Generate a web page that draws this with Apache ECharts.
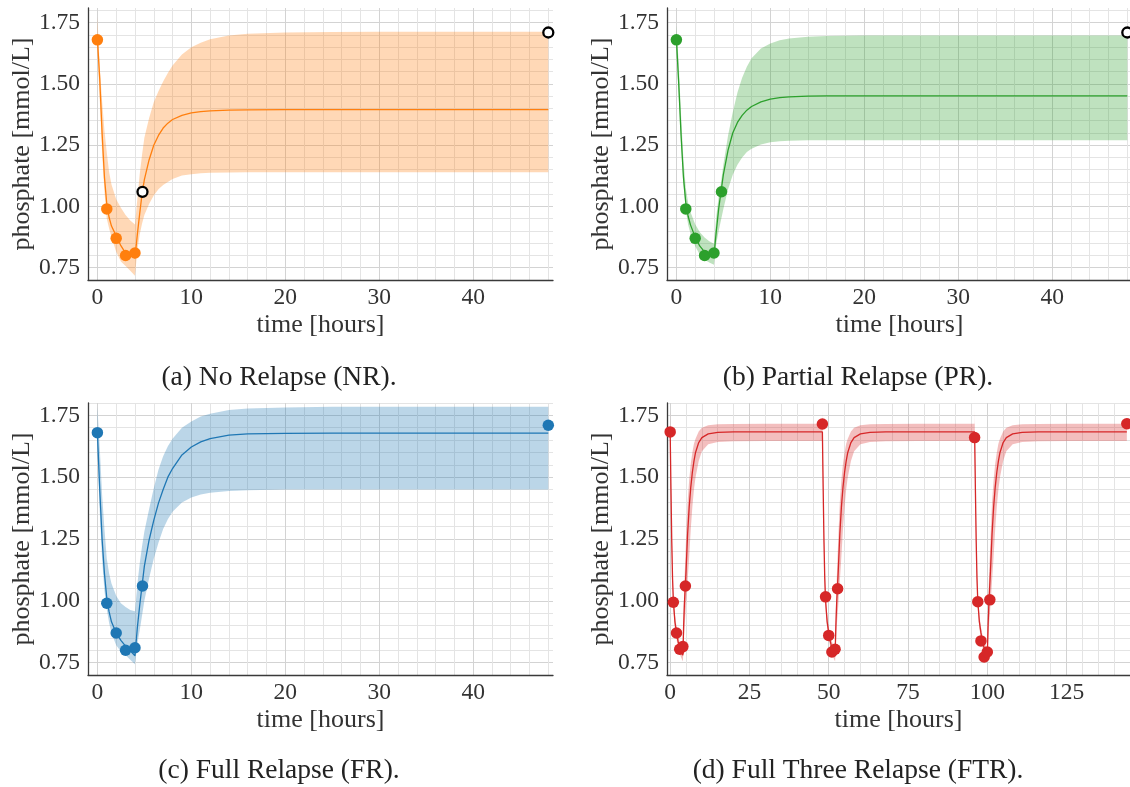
<!DOCTYPE html>
<html>
<head>
<meta charset="utf-8">
<script src="https://cdn.jsdelivr.net/npm/echarts@6/dist/echarts.min.js"></script>
<style>
  html, body { margin: 0; padding: 0; background: #fff; overflow: hidden; }
  #chart { width: 1130px; height: 787px; }
</style>
</head>
<body>
<div id="chart"></div>
<script>
// ---------- model time grid for the single-dose panels (hours) ----------
const hours = [0, 0.25, 0.5, 0.75, 1, 1.25, 1.5, 2, 2.5, 3, 3.5, 4, 4.25, 4.5, 4.75,
  5, 5.5, 6, 6.5, 7, 7.5, 8, 9, 10, 11, 12, 14, 16, 20, 25, 30, 40, 48];

// No Relapse (NR): mean prediction and credible band
const nrMid = [1.685, 1.52, 1.30, 1.12, 1.01, 0.955, 0.92, 0.88, 0.84, 0.81, 0.80, 0.79, 0.885, 0.97, 1.05,
  1.11, 1.19, 1.25, 1.29, 1.32, 1.34, 1.355, 1.372, 1.382, 1.387, 1.39, 1.393, 1.394, 1.395, 1.395, 1.395, 1.395, 1.395];
const nrUp = [1.775, 1.57, 1.43, 1.31, 1.22, 1.14, 1.09, 1.03, 0.995, 0.965, 0.943, 0.926, 1.03, 1.13, 1.21,
  1.28, 1.36, 1.425, 1.47, 1.51, 1.545, 1.575, 1.62, 1.65, 1.668, 1.682, 1.698, 1.705, 1.71, 1.712, 1.713, 1.713, 1.713];
const nrLo = [1.63, 1.44, 1.22, 1.06, 0.95, 0.91, 0.875, 0.815, 0.775, 0.757, 0.738, 0.717, 0.82, 0.885, 0.93,
  0.965, 1.01, 1.045, 1.07, 1.088, 1.10, 1.112, 1.126, 1.132, 1.136, 1.138, 1.139, 1.14, 1.14, 1.14, 1.14, 1.14, 1.14];

// Partial Relapse (PR)
const prMid = [1.685, 1.50, 1.29, 1.12, 1.015, 0.96, 0.925, 0.875, 0.838, 0.815, 0.806, 0.80, 0.90, 0.99, 1.06,
  1.13, 1.23, 1.30, 1.343, 1.372, 1.393, 1.408, 1.427, 1.438, 1.444, 1.447, 1.45, 1.451, 1.451, 1.451, 1.451, 1.451, 1.451];
const prUp = [1.74, 1.58, 1.37, 1.19, 1.075, 1.015, 0.978, 0.927, 0.895, 0.873, 0.858, 0.848, 0.96, 1.04, 1.10,
  1.17, 1.29, 1.385, 1.465, 1.525, 1.57, 1.605, 1.645, 1.665, 1.678, 1.686, 1.693, 1.696, 1.698, 1.698, 1.698, 1.698, 1.698];
const prLo = [1.64, 1.45, 1.25, 1.09, 0.985, 0.925, 0.89, 0.838, 0.803, 0.783, 0.771, 0.762, 0.85, 0.90, 0.945,
  0.99, 1.07, 1.13, 1.17, 1.20, 1.222, 1.236, 1.253, 1.262, 1.266, 1.268, 1.27, 1.27, 1.27, 1.27, 1.27, 1.27, 1.27];

// Full Relapse (FR)
const frMid = [1.68, 1.45, 1.25, 1.11, 1.01, 0.955, 0.915, 0.87, 0.84, 0.817, 0.798, 0.778, 0.89, 0.98, 1.06,
  1.14, 1.245, 1.325, 1.395, 1.45, 1.50, 1.535, 1.59, 1.622, 1.643, 1.656, 1.67, 1.675, 1.677, 1.678, 1.678, 1.678, 1.678];
const frUp = [1.785, 1.62, 1.43, 1.29, 1.17, 1.11, 1.07, 1.02, 0.99, 0.975, 0.963, 0.958, 1.065, 1.15, 1.22,
  1.28, 1.37, 1.455, 1.53, 1.585, 1.625, 1.655, 1.70, 1.725, 1.745, 1.757, 1.772, 1.778, 1.782, 1.785, 1.785, 1.785, 1.785];
const frLo = [1.60, 1.36, 1.17, 1.04, 0.965, 0.91, 0.87, 0.82, 0.795, 0.78, 0.762, 0.743, 0.824, 0.88, 0.94,
  1.00, 1.09, 1.17, 1.235, 1.29, 1.33, 1.36, 1.398, 1.418, 1.43, 1.437, 1.444, 1.447, 1.45, 1.45, 1.45, 1.45, 1.45];

// Measured phosphate (single dose, same patient in all three panels)
const obsHours = [0, 1, 2, 3, 4, 4.8, 48];
const obsValues = [1.68, 0.99, 0.87, 0.80, 0.81, 1.06, 1.71];
// how many of the measurements were used for fitting in each scenario (rest are held out)
const fittedNR = 5;
const fittedPR = 6;
const fittedFR = 7;

// ---------- Full Three Relapse (FTR): one dosing cycle of the model ----------
const doseHours = [0, 48, 96];
const cycleHours = [0, 0.25, 0.5, 0.75, 1, 1.5, 2, 2.5, 3, 3.5, 4, 4.25, 4.5, 5, 5.5, 6, 6.5, 7, 7.5, 8,
  9, 10, 12, 15, 20, 30, 48];
const ftrMid = [1.685, 1.45, 1.24, 1.09, 1.00, 0.915, 0.87, 0.835, 0.81, 0.795, 0.78, 0.90, 0.99, 1.12, 1.27,
  1.38, 1.46, 1.52, 1.565, 1.60, 1.64, 1.66, 1.675, 1.681, 1.683, 1.683, 1.683];
const ftrUp = [1.77, 1.52, 1.30, 1.14, 1.04, 0.945, 0.895, 0.86, 0.835, 0.818, 0.805, 0.97, 1.08, 1.25, 1.40,
  1.49, 1.555, 1.60, 1.635, 1.655, 1.685, 1.70, 1.71, 1.714, 1.715, 1.716, 1.716];
const ftrLo = [1.60, 1.40, 1.19, 1.05, 0.97, 0.89, 0.845, 0.81, 0.785, 0.77, 0.755, 0.82, 0.89, 0.98, 1.08,
  1.18, 1.29, 1.38, 1.45, 1.50, 1.565, 1.605, 1.633, 1.642, 1.645, 1.646, 1.646];
const ftrObsHours = [0, 1, 2, 3, 4, 4.8, 48, 49, 50, 51, 52, 52.8, 96, 97, 98, 99, 100, 100.8, 144];
const ftrObsValues = [1.683, 0.994, 0.87, 0.804, 0.815, 1.06, 1.715, 1.016, 0.86, 0.793, 0.804, 1.049,
  1.66, 0.996, 0.838, 0.773, 0.793, 1.004, 1.716];

// ---------- tick labels ----------
const xTicks48 = [0, 10, 20, 30, 40];
const xTicks144 = [0, 25, 50, 75, 100, 125];
const yTicks = [0.75, 1.00, 1.25, 1.50, 1.75];

const captions = ['(a) No Relapse (NR).', '(b) Partial Relapse (PR).', '(c) Full Relapse (FR).', '(d) Full Three Relapse (FTR).'];

// ---------- styling ----------
const FONT = 'Liberation Serif';
const TEXT = '#333333';
const AXIS = '#3a3a3a';
const MAJOR = '#d3d3d3';
const MINOR = '#e4e4e4';
const NONE = 'rgba(0,0,0,0)';
const C_NR = '#ff7f0e', C_PR = '#2ca02c', C_FR = '#1f77b4', C_FTR = '#d62728';

function rgba(hex, a) {
  const n = parseInt(hex.slice(1), 16);
  return `rgba(${(n >> 16) & 255},${(n >> 8) & 255},${n & 255},${a})`;
}

// one colour per tick (ticks run from min in steps of `step`); minor/major grid
function gridColors(min, max, step, kind) {
  const out = [];
  const n = Math.floor((max - min) / step + 1e-9);
  for (let i = 0; i <= n; i++) out.push(kind(min + i * step));
  out.push(NONE); // extent end
  return out;
}

const grids = [
  { left: 88, top: 8, width: 465, height: 272, ymax: 1.81 },
  { left: 667, top: 8, width: 465, height: 272, ymax: 1.81 },
  { left: 88, top: 403, width: 465, height: 272, ymax: 1.80 },
  { left: 667, top: 403, width: 463, height: 272, ymax: 1.80 }
];

function xAxisFor(i, max, ticks, major, minor) {
  return {
    type: 'value', gridIndex: i, min: -1, max: max, interval: 1,
    name: 'time [hours]', nameLocation: 'middle', nameGap: 32,
    nameTextStyle: { fontFamily: FONT, fontSize: 26, color: TEXT },
    axisLine: { onZero: false, lineStyle: { color: AXIS, width: 1.3 } },
    axisTick: { show: false },
    axisLabel: {
      margin: 6, fontFamily: FONT, fontSize: 23.5, color: TEXT,
      showMinLabel: true, showMaxLabel: true,
      formatter: v => (ticks.indexOf(Math.round(v)) >= 0 && Math.abs(v - Math.round(v)) < 1e-9) ? String(Math.round(v)) : ''
    },
    splitLine: {
      show: true,
      lineStyle: {
        width: 1,
        color: gridColors(-1, max, 1, v => {
          const k = Math.round(v);
          return k % major === 0 ? MAJOR : (k % minor === 0 ? MINOR : NONE);
        })
      }
    }
  };
}

function yAxisFor(i, max) {
  return {
    type: 'value', gridIndex: i, min: 0.70, max: max, interval: 0.05,
    name: 'phosphate [mmol/L]', nameLocation: 'middle', nameGap: 51,
    nameTextStyle: { fontFamily: FONT, fontSize: 26, color: TEXT },
    axisLine: { show: true, onZero: false, lineStyle: { color: AXIS, width: 1.3 } },
    axisTick: { show: false },
    axisLabel: {
      margin: 8, fontFamily: FONT, fontSize: 23.5, color: TEXT,
      formatter: v => yTicks.some(t => Math.abs(t - v) < 1e-6) ? v.toFixed(2) : ''
    },
    splitLine: {
      show: true,
      lineStyle: {
        width: 1,
        color: gridColors(0.70, max, 0.05, v => {
          const k = Math.round(v * 100);
          return k % 25 === 0 ? MAJOR : (k % 5 === 0 ? MINOR : NONE);
        })
      }
    }
  };
}

// shaded credible band, drawn as a polygon through the axis scales
function bandSeries(i, offsets, xs, up, lo, color) {
  return {
    type: 'custom', xAxisIndex: i, yAxisIndex: i, z: 1, silent: true, clip: true,
    data: offsets.map(o => [o]),
    renderItem: (params, api) => {
      const off = api.value(0);
      const pts = [];
      for (let k = 0; k < xs.length; k++) pts.push(api.coord([off + xs[k], up[k]]));
      for (let k = xs.length - 1; k >= 0; k--) pts.push(api.coord([off + xs[k], lo[k]]));
      return { type: 'polygon', shape: { points: pts }, style: { fill: rgba(color, 0.3) } };
    }
  };
}

function lineSeries(i, data, color) {
  return {
    type: 'line', xAxisIndex: i, yAxisIndex: i, z: 2, data: data,
    showSymbol: false, smooth: false, silent: true,
    lineStyle: { color: color, width: 1.3 }
  };
}

function dotSeries(i, data, color) {
  return {
    type: 'scatter', xAxisIndex: i, yAxisIndex: i, z: 4, data: data,
    symbol: 'circle', symbolSize: 11.5, silent: true,
    itemStyle: { color: color, opacity: 1 }
  };
}

function ringSeries(i, data) {
  return {
    type: 'scatter', xAxisIndex: i, yAxisIndex: i, z: 4, data: data,
    symbol: 'circle', symbolSize: 10, silent: true,
    itemStyle: { color: '#ffffff', borderColor: '#000000', borderWidth: 2.3, opacity: 1 }
  };
}

const pairs = (xs, ys) => xs.map((x, k) => [x, ys[k]]);

// concatenated FTR mean curve over the three dosing cycles
const ftrLine = [];
doseHours.forEach(d => cycleHours.forEach((h, k) => ftrLine.push([d + h, ftrMid[k]])));

const obs = pairs(obsHours, obsValues);

const series = [
  bandSeries(0, [0], hours, nrUp, nrLo, C_NR),
  lineSeries(0, pairs(hours, nrMid), C_NR),
  dotSeries(0, obs.slice(0, fittedNR), C_NR),
  ringSeries(0, obs.slice(fittedNR)),

  bandSeries(1, [0], hours, prUp, prLo, C_PR),
  lineSeries(1, pairs(hours, prMid), C_PR),
  dotSeries(1, obs.slice(0, fittedPR), C_PR),
  ringSeries(1, obs.slice(fittedPR)),

  bandSeries(2, [0], hours, frUp, frLo, C_FR),
  lineSeries(2, pairs(hours, frMid), C_FR),
  dotSeries(2, obs.slice(0, fittedFR), C_FR),

  bandSeries(3, doseHours, cycleHours, ftrUp, ftrLo, C_FTR),
  lineSeries(3, ftrLine, C_FTR),
  dotSeries(3, pairs(ftrObsHours, ftrObsValues), C_FTR)
];

const captionPos = [[279, 378], [858, 378], [279, 771], [858, 771]];

const option = {
  animation: false,
  backgroundColor: '#ffffff',
  grid: grids.map(g => ({ left: g.left, top: g.top, width: g.width, height: g.height, containLabel: false, outerBoundsMode: 'none' })),
  xAxis: [
    xAxisFor(0, 48.5, xTicks48, 10, 2),
    xAxisFor(1, 48.5, xTicks48, 10, 2),
    xAxisFor(2, 48.5, xTicks48, 10, 2),
    xAxisFor(3, 145, xTicks144, 25, 5)
  ],
  yAxis: grids.map((g, i) => yAxisFor(i, g.ymax)),
  series: series,
  graphic: captions.map((t, i) => ({
    type: 'text', x: captionPos[i][0], y: captionPos[i][1], silent: true,
    style: { text: t, fontFamily: FONT, fontSize: 27.5, fill: '#222222', align: 'center', verticalAlign: 'middle' }
  }))
};

const chart = echarts.init(document.getElementById('chart'), null, { renderer: 'canvas' });
chart.setOption(option);
</script>
</body>
</html>
